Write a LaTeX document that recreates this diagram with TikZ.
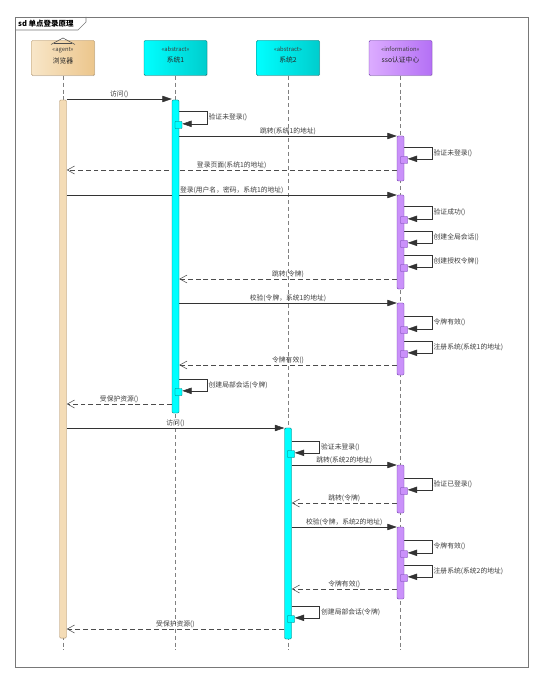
\documentclass[tikz,border=0pt]{standalone}
\usepackage{fontspec}
\setmainfont{Noto Sans CJK SC}
\usepackage{xcolor}
\usetikzlibrary{arrows.meta,positioning,shadows,backgrounds}
\definecolor{agentlight}{RGB}{248,230,200}
\definecolor{agentdark}{RGB}{236,198,140}
\definecolor{agentline}{RGB}{170,140,100}
\definecolor{abstractlight}{RGB}{0,255,255}
\definecolor{abstractdark}{RGB}{0,205,205}
\definecolor{abstractline}{RGB}{0,110,110}
\definecolor{infolight}{RGB}{220,172,255}
\definecolor{infodark}{RGB}{180,112,245}
\definecolor{infoline}{RGB}{110,60,170}
\definecolor{msgtext}{RGB}{60,60,60}
\definecolor{framegray}{RGB}{120,120,120}

\begin{document}
\begin{tikzpicture}[
    x=0.03cm, y=-0.03cm,
    font=\fontsize{5.8}{7}\selectfont,
    head/.style={draw, rounded corners=1pt, minimum width=1.89cm, minimum height=1.05cm, inner sep=0pt, drop shadow={opacity=0.2, shadow xshift=0.6pt, shadow yshift=-0.6pt}},
    stereo/.style={font=\fontsize{5}{6}\selectfont, text=msgtext, inner sep=0pt},
    hname/.style={text=black!85, inner sep=0pt},
    bar/.style={draw, rounded corners=1pt, minimum width=0.21cm, inner sep=0pt, line width=0.4pt},
    brwbar/.style={bar, draw=agentline, fill=agentlight!70!agentdark},
    sysbar/.style={bar, draw=abstractline, fill=abstractlight},
    ssobar/.style={bar, draw=infoline, fill=infolight!55!infodark},
    sysbox/.style={sysbar, minimum height=0.21cm, rounded corners=0.5pt},
    ssobox/.style={ssobar, minimum height=0.21cm, rounded corners=0.5pt},
    lifeline/.style={draw=black!50, line width=0.45pt, dash pattern=on 3.4pt off 2.5pt},
    msg/.style={draw=black!80, line width=0.45pt, -{Triangle[length=2.8mm, width=1.9mm]}},
    ret/.style={draw=black!70, line width=0.45pt, dash pattern=on 4.2pt off 2.5pt, -{Straight Barb[length=2.2mm, width=2.4mm]}},
    lbl/.style={text=msgtext, inner sep=1pt}
]
    \useasboundingbox (0,0) rectangle (543,682);

    % frame
    \draw[framegray, line width=0.7pt] (15,17) rectangle (528,667);
    \draw[framegray, line width=0.6pt] (15,30) -- (78,30) -- (86,22) -- (86,17);
    \node[anchor=west, inner sep=0pt, font=\fontsize{6.4}{7}\selectfont\bfseries] (title) at (18,23.5) {sd 单点登录原理};

    % lifeline heads
    \node[head, draw=agentline, left color=agentlight, right color=agentdark] (brwH) at (63,58) {};
    \node[head, draw=abstractline, left color=abstractlight, right color=abstractdark] (s1H) at (175.5,58) {};
    \node[head, draw=abstractline, left color=abstractlight, right color=abstractdark] (s2H) at (288,58) {};
    \node[head, draw=infoline, left color=infolight, right color=infodark] (ssoH) at (400.5,58) {};

    \node[stereo, below=5.5pt of brwH.north] (brwS) {«agent»};
    \node[hname, below=4pt of brwS] (brwN) {浏览器};
    \node[stereo, below=5.5pt of s1H.north] (s1S) {«abstract»};
    \node[hname, below=4pt of s1S] (s1N) {系统1};
    \node[stereo, below=5.5pt of s2H.north] (s2S) {«abstract»};
    \node[hname, below=4pt of s2S] (s2N) {系统2};
    \node[stereo, below=5.5pt of ssoH.north] (ssoS) {«information»};
    \node[hname, below=4pt of ssoS] (ssoN) {sso认证中心};

    % agent icon
    \draw[black!70, line width=0.45pt] (51,44.5) -- (63,38) -- (75,44.5);
    \draw[black!70, line width=0.45pt] (54,43) -- (72,43);

    % activations
    \node[brwbar, minimum height=16.14cm] (brwA) at (63,369) {};
    \node[sysbar, minimum height=9.39cm] (s1A) at (175.5,256.5) {};
    \node[sysbar, minimum height=6.33cm] (s2A) at (288,533.5) {};
    \node[ssobar, minimum height=1.35cm] (ssoA1) at (400.5,158.5) {};
    \node[ssobar, minimum height=2.82cm] (ssoA2) at (400.5,242) {};
    \node[ssobar, minimum height=2.16cm] (ssoA3) at (400.5,339) {};
    \node[ssobar, minimum height=1.44cm] (ssoA4) at (400.5,489) {};
    \node[ssobar, minimum height=2.16cm] (ssoA5) at (400.5,563) {};

    % nested activations
    \node[sysbox] (s1B1) at (178.5,125) {};
    \node[sysbox] (s1B2) at (178.5,392) {};
    \node[sysbox] (s2B1) at (291,454) {};
    \node[sysbox] (s2B2) at (291,619) {};
    \node[ssobox] (ssoB1) at (404,160) {};
    \node[ssobox] (ssoB2) at (404,220) {};
    \node[ssobox] (ssoB3) at (404,244) {};
    \node[ssobox] (ssoB4) at (404,268) {};
    \node[ssobox] (ssoB5) at (404,330) {};
    \node[ssobox] (ssoB6) at (404,354) {};
    \node[ssobox] (ssoB7) at (404,491) {};
    \node[ssobox] (ssoB8) at (404,554) {};
    \node[ssobox] (ssoB9) at (404,578) {};

    \begin{scope}[on background layer]
        \foreach \h in {brwH,s1H,s2H,ssoH}
            \draw[lifeline] (\h.south) -- (\h.south |- 0,650);

        % first visit to system 1
        \draw[msg] (brwA.east |- 0,99) -- node[lbl, midway, above] {访问()} (s1A.west |- 0,99);
        \draw[msg] (s1A.east |- 0,111) -- ++(28,0) |- node[lbl, pos=0.25, right] {验证未登录()} ([yshift=1pt]s1B1.east);
        \draw[msg] (s1A.east |- 0,136) -- node[lbl, midway, above] {跳转(系统1的地址)} (ssoA1.west |- 0,136);
        \draw[msg] (ssoA1.east |- 0,147) -- ++(28,0) |- node[lbl, pos=0.25, right] {验证未登录()} ([yshift=1pt]ssoB1.east);
        \draw[ret] (ssoA1.west |- 0,170) -- node[lbl, midway, above] {登录页面(系统1的地址)} (brwA.east |- 0,170);
        \draw[msg] (brwA.east |- 0,195) -- node[lbl, midway, above] {登录(用户名，密码，系统1的地址)} (ssoA2.west |- 0,195);
        \draw[msg] (ssoA2.east |- 0,206) -- ++(28,0) |- node[lbl, pos=0.25, right] {验证成功()} ([yshift=1pt]ssoB2.east);
        \draw[msg] (ssoA2.east |- 0,231) -- ++(28,0) |- node[lbl, pos=0.25, right] {创建全局会话()} ([yshift=1pt]ssoB3.east);
        \draw[msg] (ssoA2.east |- 0,255) -- ++(28,0) |- node[lbl, pos=0.25, right] {创建授权令牌()} ([yshift=1pt]ssoB4.east);
        \draw[ret] (ssoA2.west |- 0,279) -- node[lbl, midway, above] {跳转(令牌)} (s1A.east |- 0,279);
        \draw[msg] (s1A.east |- 0,303) -- node[lbl, midway, above] {校验(令牌，系统1的地址)} (ssoA3.west |- 0,303);
        \draw[msg] (ssoA3.east |- 0,316) -- ++(28,0) |- node[lbl, pos=0.25, right] {令牌有效()} ([yshift=1pt]ssoB5.east);
        \draw[msg] (ssoA3.east |- 0,341) -- ++(28,0) |- node[lbl, pos=0.25, right] {注册系统(系统1的地址)} ([yshift=1pt]ssoB6.east);
        \draw[ret] (ssoA3.west |- 0,365) -- node[lbl, midway, above] {令牌有效()} (s1A.east |- 0,365);
        \draw[msg] (s1A.east |- 0,379) -- ++(28,0) |- node[lbl, pos=0.25, right] {创建局部会话(令牌)} ([yshift=1pt]s1B2.east);
        \draw[ret] (s1A.west |- 0,404) -- node[lbl, midway, above] {受保护资源()} (brwA.east |- 0,404);

        % visit to system 2
        \draw[msg] (brwA.east |- 0,428) -- node[lbl, midway, above] {访问()} (s2A.west |- 0,428);
        \draw[msg] (s2A.east |- 0,441) -- ++(28,0) |- node[lbl, pos=0.25, right] {验证未登录()} ([yshift=1pt]s2B1.east);
        \draw[msg] (s2A.east |- 0,465) -- node[lbl, midway, above] {跳转(系统2的地址)} (ssoA4.west |- 0,465);
        \draw[msg] (ssoA4.east |- 0,478) -- ++(28,0) |- node[lbl, pos=0.25, right] {验证已登录()} ([yshift=1pt]ssoB7.east);
        \draw[ret] (ssoA4.west |- 0,503) -- node[lbl, midway, above] {跳转(令牌)} (s2A.east |- 0,503);
        \draw[msg] (s2A.east |- 0,527) -- node[lbl, midway, above] {校验(令牌，系统2的地址)} (ssoA5.west |- 0,527);
        \draw[msg] (ssoA5.east |- 0,540) -- ++(28,0) |- node[lbl, pos=0.25, right] {令牌有效()} ([yshift=1pt]ssoB8.east);
        \draw[msg] (ssoA5.east |- 0,565) -- ++(28,0) |- node[lbl, pos=0.25, right] {注册系统(系统2的地址)} ([yshift=1pt]ssoB9.east);
        \draw[ret] (ssoA5.west |- 0,589) -- node[lbl, midway, above] {令牌有效()} (s2A.east |- 0,589);
        \draw[msg] (s2A.east |- 0,606) -- ++(28,0) |- node[lbl, pos=0.25, right] {创建局部会话(令牌)} ([yshift=1pt]s2B2.east);
        \draw[ret] (s2A.west |- 0,629) -- node[lbl, midway, above] {受保护资源()} (brwA.east |- 0,629);
    \end{scope}
\end{tikzpicture}
\end{document}
